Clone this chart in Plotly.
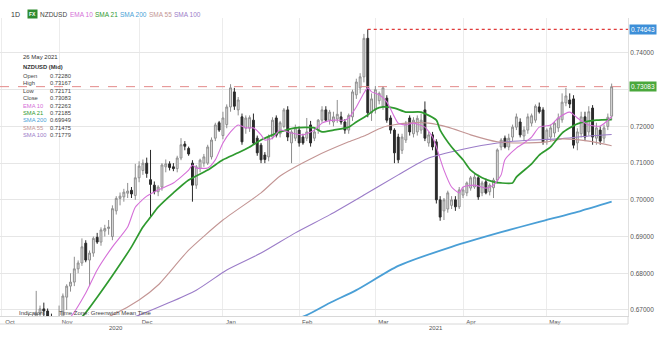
import pandas as pd
import plotly.graph_objects as go

# ---------------- data ----------------
holidays = ["2020-12-25", "2021-01-01"]
dates = [d for d in pd.bdate_range("2020-10-12", "2021-05-26")
         if d.strftime("%Y-%m-%d") not in holidays]

open_ = [0.6640,0.6625,0.6610,0.6628,0.6590,0.6605,0.6598,0.6630,0.6675,0.6660,
         0.6690,0.6703,0.6697,0.6680,0.6630,0.6615,0.6660,0.6735,0.6765,0.6776,
         0.6812,0.6828,0.6882,0.6836,0.6855,0.6898,0.6885,0.6915,0.6922,0.6900,
         0.6970,0.7004,0.7008,0.7018,0.7026,0.7012,0.7060,0.7080,0.7100,0.7055,
         0.7040,0.7022,0.7035,0.7090,0.7098,0.7090,0.7085,0.7114,0.7152,0.7140,
         0.7100,0.7040,0.7085,0.7100,0.7100,0.7117,0.7168,0.7210,0.7175,0.7205,
         0.7253,0.7294,0.7245,0.7226,0.7195,0.7195,0.7217,0.7168,0.7149,0.7122,
         0.7117,0.7171,0.7223,0.7180,0.7200,0.7245,0.7155,0.7168,0.7190,0.7171,
         0.7168,0.7204,0.7168,0.7190,0.7217,0.7245,0.7217,0.7212,0.7220,0.7226,
         0.7212,0.7190,0.7226,0.7286,0.7305,0.7335,0.7440,0.7237,0.7245,0.7270,
         0.7255,0.7277,0.7223,0.7190,0.7171,0.7135,0.7163,0.7223,0.7180,0.7185,
         0.7190,0.7245,0.7155,0.7177,0.7158,0.7000,0.6970,0.6975,0.6985,0.7000,
         0.6981,0.7013,0.7019,0.7032,0.7035,0.7060,0.7019,0.7049,0.7022,0.7033,
         0.7054,0.7144,0.7168,0.7144,0.7171,0.7198,0.7212,0.7174,0.7190,0.7209,
         0.7217,0.7253,0.7245,0.7163,0.7171,0.7182,0.7196,0.7218,0.7264,0.7272,
         0.7275,0.7155,0.7180,0.7226,0.7185,0.7250,0.7168,0.7190,0.7168,0.7200,
         0.72280]
high = [0.6660,0.6640,0.6640,0.6635,0.6615,0.6625,0.6640,0.6690,0.6685,0.6752,
        0.6712,0.6720,0.6704,0.6690,0.6660,0.6712,0.6745,0.6770,0.6800,0.6845,
        0.6835,0.6895,0.6890,0.6862,0.6900,0.6910,0.6925,0.6932,0.6945,0.6985,
        0.7010,0.7020,0.7030,0.7046,0.7035,0.7098,0.7105,0.7110,0.7115,0.7136,
        0.7050,0.7040,0.7100,0.7110,0.7105,0.7100,0.7120,0.7168,0.7160,0.7145,
        0.7108,0.7095,0.7112,0.7125,0.7150,0.7170,0.7210,0.7215,0.7240,0.7260,
        0.7315,0.7305,0.7280,0.7235,0.7230,0.7230,0.7235,0.7175,0.7155,0.7130,
        0.7178,0.7225,0.7230,0.7215,0.7250,0.7255,0.7190,0.7205,0.7200,0.7180,
        0.7223,0.7215,0.7195,0.7220,0.7255,0.7255,0.7245,0.7240,0.7272,0.7240,
        0.7220,0.7235,0.7300,0.7330,0.7345,0.7452,0.74643,0.7290,0.7310,0.7295,
        0.7310,0.7285,0.7230,0.7195,0.7180,0.7180,0.7215,0.7230,0.7225,0.7230,
        0.7235,0.7268,0.7185,0.7185,0.7165,0.7010,0.7005,0.7025,0.7010,0.7010,
        0.7035,0.7035,0.7050,0.7065,0.7070,0.7068,0.7052,0.7058,0.7045,0.7060,
        0.7140,0.7168,0.7175,0.7180,0.7205,0.7235,0.7222,0.7200,0.7235,0.7235,
        0.7260,0.7265,0.7252,0.7195,0.7205,0.7215,0.7235,0.7290,0.7305,0.7290,
        0.7285,0.7195,0.7240,0.7240,0.7255,0.7258,0.7210,0.7200,0.7205,0.7235,
        0.73167]
low = [0.6615,0.6590,0.6600,0.6580,0.6585,0.6590,0.6590,0.6625,0.6640,0.6650,
       0.6668,0.6680,0.6672,0.6620,0.6600,0.6600,0.6640,0.6700,0.6750,0.6765,
       0.6800,0.6820,0.6830,0.6765,0.6845,0.6880,0.6875,0.6900,0.6905,0.6890,
       0.6960,0.6985,0.6995,0.7005,0.7005,0.7000,0.7048,0.7068,0.7060,0.6953,
       0.7015,0.7010,0.7025,0.7075,0.7080,0.7078,0.7075,0.7108,0.7135,0.7120,
       0.6995,0.7030,0.7075,0.7090,0.7095,0.7110,0.7160,0.7185,0.7165,0.7195,
       0.7240,0.7245,0.7230,0.7150,0.7180,0.7185,0.7150,0.7120,0.7100,0.7100,
       0.7105,0.7165,0.7170,0.7170,0.7195,0.7160,0.7100,0.7160,0.7145,0.7150,
       0.7160,0.7145,0.7160,0.7180,0.7210,0.7215,0.7205,0.7200,0.7210,0.7205,
       0.7180,0.7180,0.7215,0.7275,0.7290,0.7320,0.7225,0.7215,0.7235,0.7260,
       0.7245,0.7210,0.7180,0.7100,0.7100,0.7125,0.7155,0.7175,0.7170,0.7175,
       0.7180,0.7160,0.7145,0.7135,0.6990,0.6943,0.6945,0.6965,0.6975,0.6970,
       0.6975,0.7005,0.7010,0.7025,0.7030,0.7000,0.7010,0.7015,0.7012,0.7005,
       0.7045,0.7135,0.7140,0.7135,0.7160,0.7190,0.7170,0.7160,0.7180,0.7200,
       0.7210,0.7235,0.7150,0.7150,0.7160,0.7170,0.7185,0.7210,0.7255,0.7250,
       0.7140,0.7135,0.7170,0.7160,0.7175,0.7150,0.7150,0.7150,0.7155,0.7190,
       0.72171]
close = [0.6625,0.6610,0.6628,0.6590,0.6605,0.6598,0.6630,0.6675,0.6660,0.6690,
         0.6703,0.6697,0.6680,0.6630,0.6615,0.6660,0.6738,0.6765,0.6776,0.6812,
         0.6828,0.6872,0.6836,0.6855,0.6895,0.6885,0.6918,0.6922,0.6926,0.6976,
         0.7004,0.7010,0.7021,0.7024,0.7016,0.7060,0.7092,0.7100,0.7072,0.7042,
         0.7022,0.7035,0.7095,0.7098,0.7088,0.7085,0.7114,0.7150,0.7146,0.7125,
         0.7040,0.7090,0.7108,0.7117,0.7144,0.7163,0.7204,0.7190,0.7223,0.7253,
         0.7305,0.7255,0.7272,0.7158,0.7223,0.7224,0.7155,0.7128,0.7109,0.7110,
         0.7171,0.7217,0.7176,0.7210,0.7245,0.7171,0.7185,0.7196,0.7155,0.7155,
         0.7185,0.7155,0.7185,0.7217,0.7245,0.7217,0.7239,0.7226,0.7233,0.7212,
         0.7190,0.7230,0.7294,0.7321,0.7335,0.7440,0.7237,0.7275,0.7300,0.7290,
         0.7305,0.7217,0.7190,0.7128,0.7109,0.7171,0.7209,0.7185,0.7217,0.7222,
         0.7217,0.7168,0.7177,0.7144,0.7000,0.6953,0.7000,0.7019,0.7000,0.6981,
         0.7027,0.7027,0.7046,0.7060,0.7062,0.7008,0.7046,0.7019,0.7040,0.7054,
         0.7136,0.7163,0.7144,0.7168,0.7198,0.7226,0.7177,0.7190,0.7226,0.7229,
         0.7255,0.7240,0.7158,0.7190,0.7196,0.7209,0.7223,0.7266,0.7283,0.7261,
         0.7149,0.7185,0.7226,0.7171,0.7240,0.7171,0.7196,0.7160,0.7196,0.7225,
         0.73083]

# moving averages: (trading-day index, value) samples
ema10_idx = [12,18,22,25,29,33,35,38,41,45,49,50,51,54,56,58,60,62,64,66,68,69,71,73,76,79,82,84,87,90,
             91,93,95,96,97,99,101,103,104,106,108,111,113,114,116,118,120,121,124,127,129,131,132,135,
             137,139,141,144,146,149,151,154,157,160]
ema10_val = [0.6650,0.6681,0.6746,0.6809,0.6872,0.6926,0.6980,0.7010,0.7027,0.7046,0.7081,0.7095,0.7087,
             0.7087,0.7109,0.7155,0.7185,0.7204,0.7196,0.7196,0.7177,0.7163,0.7168,0.7190,0.7182,0.7177,
             0.7190,0.7209,0.7217,0.7217,0.7223,0.7253,0.7291,0.7305,0.7294,0.7286,0.7267,0.7226,0.7209,
             0.7204,0.7209,0.7198,0.7171,0.7144,0.7081,0.7035,0.7019,0.7035,0.7040,0.7032,0.7040,0.7068,
             0.7109,0.7141,0.7155,0.7171,0.7198,0.7204,0.7223,0.7239,0.7223,0.7204,0.7201,0.72263]
sma21_idx = [15,21,25,30,34,37,39,41,45,49,54,58,62,65,68,71,73,77,82,84,87,91,93,96,98,100,103,106,110,
             114,115,118,121,123,126,129,131,134,135,139,141,144,147,151,156,160]
sma21_val = [0.6640,0.6681,0.6735,0.6809,0.6872,0.6926,0.6953,0.6980,0.7019,0.7054,0.7081,0.7109,0.7128,
             0.7144,0.7163,0.7177,0.7185,0.7196,0.7196,0.7185,0.7190,0.7198,0.7212,0.7231,0.7247,0.7253,
             0.7250,0.7239,0.7239,0.7217,0.7190,0.7144,0.7109,0.7081,0.7060,0.7049,0.7046,0.7046,0.7062,
             0.7098,0.7122,0.7144,0.7182,0.7207,0.7217,0.72185]
sma55_idx = [20,29,36,41,49,58,68,73,82,91,95,100,106,112,117,123,130,136,143,147,154,160]
sma55_val = [0.6650,0.6686,0.6727,0.6768,0.6863,0.6945,0.7019,0.7065,0.7117,0.7158,0.7174,0.7198,0.7209,
             0.7209,0.7198,0.7177,0.7158,0.7155,0.7158,0.7166,0.7160,0.71475]
sma100_idx = [25,36,51,59,68,77,86,95,104,112,121,130,139,146,154,160]
sma100_val = [0.6650,0.6686,0.6754,0.6809,0.6855,0.6910,0.6959,0.7013,0.7068,0.7114,0.7138,0.7155,0.7163,
              0.7166,0.7174,0.71779]
sma200_idx = [70,80,86,93,104,118,131,141,152,160]
sma200_val = [0.6650,0.6686,0.6719,0.6754,0.6820,0.6872,0.6912,0.6940,0.6970,0.69949]

month_ticks = ["2020-10-12", "2020-11-02", "2020-12-01", "2021-01-04", "2021-02-01",
               "2021-03-01", "2021-04-01", "2021-05-03"]
month_labels = ["Oct", "Nov", "Dec", "Jan", "Feb", "Mar", "Apr", "May"]
year_labels = [("2020-11-23", "2020"), ("2021-03-23", "2021")]
price_ticks = [0.67, 0.68, 0.69, 0.70, 0.71, 0.72, 0.73, 0.74]

info_rows = [("Open", "0.72280"), ("High", "0.73167"), ("Low", "0.72171"), ("Close", "0.73083"),
             ("EMA 10", "0.72263"), ("SMA 21", "0.72185"), ("SMA 200", "0.69949"),
             ("SMA 55", "0.71475"), ("SMA 100", "0.71779")]

# ---------------- styles ----------------
C_EMA10 = "#d56fd8"
C_SMA21 = "#2f9a2f"
C_SMA200 = "#4a9fd6"
C_SMA55 = "#c39594"
C_SMA100 = "#9b7cc8"
FONT = "Liberation Sans, Arial, sans-serif"

W, H = 660, 342
L, R, T, B = 0, 32, 18, 26
PW, PH = W - L - R, H - T - B


def px(x):
    return (x - L) / PW


def py(y):
    return (H - B - y) / PH


fig = go.Figure()
fig.add_trace(go.Candlestick(
    x=dates, open=open_, high=high, low=low, close=close,
    increasing=dict(line=dict(color="#8e8e8e", width=1), fillcolor="#e2e2e2"),
    decreasing=dict(line=dict(color="#2a2a2a", width=1), fillcolor="#2a2a2a"),
    whiskerwidth=0, showlegend=False, hoverinfo="skip"))

for idx, val, col, w in [(sma200_idx, sma200_val, C_SMA200, 1.8),
                         (sma100_idx, sma100_val, C_SMA100, 1.1),
                         (sma55_idx, sma55_val, C_SMA55, 1.1),
                         (sma21_idx, sma21_val, C_SMA21, 1.7),
                         (ema10_idx, ema10_val, C_EMA10, 1.1)]:
    fig.add_trace(go.Scatter(x=[dates[i] for i in idx], y=val, mode="lines",
                             line=dict(color=col, width=w, shape="spline", smoothing=0.6),
                             showlegend=False, hoverinfo="skip"))

peak_i = high.index(max(high))
x_end = "2021-06-01 07:00"
fig.add_trace(go.Scatter(x=[dates[peak_i], x_end], y=[max(high), max(high)], mode="lines",
                         line=dict(color="#e03c3c", width=1.3, dash="dot"),
                         showlegend=False, hoverinfo="skip"))

shapes = [
    dict(type="line", xref="paper", yref="y", x0=0, x1=1, y0=close[-1], y1=close[-1],
         line=dict(color="#e48a8a", width=1, dash="dash")),
    dict(type="line", xref="paper", yref="paper", x0=0, x1=1, y0=py(324), y1=py(324),
         line=dict(color="#d8d8d8", width=1)),
    dict(type="line", xref="paper", yref="paper", x0=1, x1=1, y0=py(324), y1=py(316),
         line=dict(color="#d8d8d8", width=1)),
]

ann = []
# header
ann.append(dict(x=px(9), y=py(14), text="1D", font=dict(size=7, color="#333"), xanchor="left"))
ann.append(dict(x=px(27), y=py(14), text="<b>FX</b>", font=dict(size=5, color="white"),
                bgcolor="#2e8b2e", xanchor="left", borderpad=1))
hdr = [("NZDUSD", "#444", 38), ("EMA 10", C_EMA10, 68), ("SMA 21", C_SMA21, 93),
       ("SMA 200", C_SMA200, 118), ("SMA 55", C_SMA55, 147), ("SMA 100", C_SMA100, 172)]
for t, c, x in hdr:
    ann.append(dict(x=px(x), y=py(14), text=t, font=dict(size=6.5, color=c), xanchor="left"))

# info panel
ann.append(dict(x=px(21), y=py(57), text="26 May 2021", font=dict(size=6, color="#333"),
                xanchor="left"))
ann.append(dict(x=px(21), y=py(67), text="<b>NZDUSD (Mid)</b>", font=dict(size=5.8, color="#333"),
                xanchor="left"))
row_colors = ["#444", "#444", "#444", "#444", C_EMA10, C_SMA21, C_SMA200, C_SMA55, C_SMA100]
for k, ((lab, val), col) in enumerate(zip(info_rows, row_colors)):
    yy = 76 + k * 7.4
    ann.append(dict(x=px(21), y=py(yy), text=lab, font=dict(size=5.8, color=col), xanchor="left"))
    ann.append(dict(x=px(48), y=py(yy), text=val, font=dict(size=5.8, color="#444"), xanchor="left"))

# bottom notes
ann.append(dict(x=px(17), y=py(313), text="Indicators", font=dict(size=6, color="#444"),
                xanchor="left"))
ann.append(dict(x=px(57), y=py(313), text="Time Zone: Greenwich Mean Time",
                font=dict(size=6, color="#444"), xanchor="left"))

# years
for d, t in year_labels:
    ann.append(dict(x=d, xref="x", y=py(328), text=t, font=dict(size=6, color="#555")))

# right price tags (they cover the axis label underneath)
ann.append(dict(x=1.0, y=max(high), yref="y", text=f"{max(high):.5f}", xanchor="left",
                font=dict(size=6.5, color="white"), bgcolor="#3d8fd8", borderpad=1, xshift=1))
ann.append(dict(x=1.0, y=close[-1], yref="y", text=f"{close[-1]:.5f}", xanchor="left",
                font=dict(size=6.5, color="white"), bgcolor="#4aa83c", borderpad=1, xshift=1))

for a in ann:
    a.setdefault("xref", "paper")
    a.setdefault("yref", "paper")
    a.setdefault("showarrow", False)
    a.setdefault("yanchor", "middle")

tick_text = ["" if abs(v - close[-1]) < 0.002 else f"{v:.5f}" for v in price_ticks]

fig.update_layout(
    width=W, height=H, margin=dict(l=L, r=R, t=T, b=B),
    paper_bgcolor="white", plot_bgcolor="white",
    font=dict(family=FONT, size=7, color="#555"),
    showlegend=False, shapes=shapes, annotations=ann,
    xaxis=dict(type="date", rangeslider=dict(visible=False),
               rangebreaks=[dict(bounds=["sat", "mon"]), dict(values=holidays)],
               range=["2020-10-09 12:00", x_end],
               tickmode="array", tickvals=month_ticks, ticktext=month_labels,
               ticklabelshift=8, ticks="", showgrid=True, gridcolor="#ececec",
               showline=True, linecolor="#d8d8d8", zeroline=False,
               tickfont=dict(size=6, color="#555")),
    yaxis=dict(side="right", range=[0.66836, 0.74953],
               tickmode="array", tickvals=price_ticks, ticktext=tick_text,
               showgrid=True, gridcolor="#e6e6e6", zeroline=False,
               showline=True, linecolor="#e0e0e0", ticks="",
               tickfont=dict(size=6.5, color="#555")),
)

fig.write_html("out.html")
